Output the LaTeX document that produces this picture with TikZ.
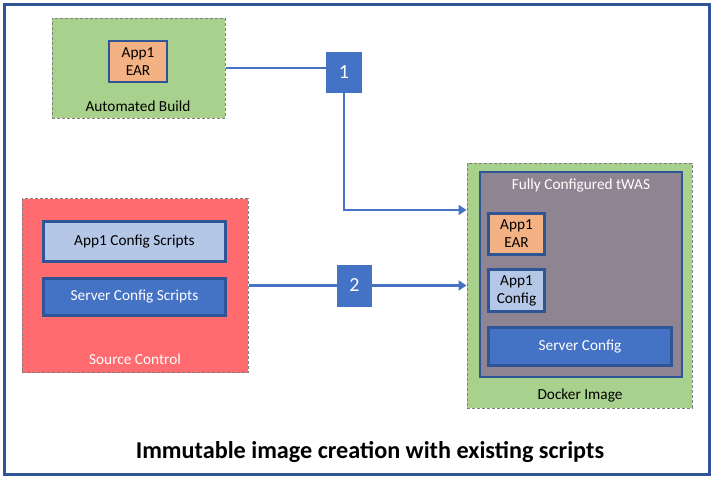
\documentclass[tikz,border=0pt]{standalone}
\usepackage{fontspec}
\setmainfont{Carlito}
\usetikzlibrary{arrows.meta}
\definecolor{frameblue}{HTML}{2F5597}
\definecolor{accblue}{HTML}{4472C4}
\definecolor{lightblue}{HTML}{B4C7E7}
\definecolor{leafgreen}{HTML}{A9D18E}
\definecolor{salmon}{HTML}{F4B183}
\definecolor{srcred}{HTML}{FF6B6E}
\definecolor{twasgray}{HTML}{8F8592}
\definecolor{dashgray}{HTML}{7F7F7F}

\begin{document}
\begin{tikzpicture}[x=1pt,y=-1pt,
    zone/.style={draw=dashgray,dash pattern=on 3pt off 2pt,line width=1pt,inner sep=0pt},
    part/.style={draw=frameblue,line width=2.5pt,inner sep=0pt,align=center,font=\fontsize{15.3}{18}\selectfont},
    caption/.style={font=\fontsize{15.3}{18}\selectfont},
    badge/.style={fill=accblue,text=white,inner sep=0pt,minimum width=36pt,minimum height=41pt,font=\fontsize{20}{22}\selectfont},
    flow/.style={accblue,line width=2.2pt},
    flowtip/.style={flow,-{Triangle[length=8pt,width=10pt]}}]
    \useasboundingbox (0,0) rectangle (714,479);
    \draw[frameblue,line width=2.5pt] (4.5,4.5) rectangle (709.5,474.5); %外枠

    % Automated Build
    \node[zone,fill=leafgreen,minimum width=173pt,minimum height=100pt] (build) at (138.5,68) {};
    \node[part,fill=salmon,minimum width=58pt,minimum height=41pt] (ear) at (138,61.5) {App1\\EAR};
    \node[caption] (buildlbl) at (138,106) {Automated Build};

    % Source Control
    \node[zone,fill=srcred,minimum width=226pt,minimum height=174pt] (src) at (135,285.5) {};
    \node[part,fill=lightblue,minimum width=182pt,minimum height=40pt] (appscripts) at (134.5,241.5) {App1 Config Scripts};
    \node[part,fill=accblue,text=white,minimum width=182pt,minimum height=37pt] (srvscripts) at (134.5,297) {Server Config Scripts};
    \node[caption,text=white] (srclbl) at (135,359) {Source Control};

    % Docker Image
    \node[zone,fill=leafgreen,minimum width=225pt,minimum height=245pt] (docker) at (579.5,285.5) {};
    \node[part,fill=twasgray,minimum width=202pt,minimum height=205pt] (twas) at (581,274.5) {};
    \node[caption,text=white] (twaslbl) at (581,186) {Fully Configured tWAS};
    \node[part,fill=salmon,minimum width=56pt,minimum height=41pt] (twasear) at (516.5,234) {App1\\EAR};
    \node[part,fill=lightblue,minimum width=56pt,minimum height=42pt] (appcfg) at (516.5,290.5) {App1\\Config};
    \node[part,fill=accblue,text=white,minimum width=183pt,minimum height=38pt] (srvcfg) at (580,346.5) {Server Config};
    \node[caption] (dockerlbl) at (580,395) {Docker Image};

    % 経路
    \node[badge] (one) at (344,72) {1};
    \node[badge,minimum width=35pt,minimum height=42pt] (two) at (354.5,285.5) {2};
    \draw[flow] (build.east) -- (build.east -| one.west);
    \draw[flowtip] (one.south) |- ([yshift=75.5pt]docker.west);
    \draw[flow] (src.east) -- (two.west);
    \draw[flowtip] (two.east) -- (docker.west);

    \node[font=\fontsize{24.2}{28}\selectfont\bfseries] (title) at (370,452) {Immutable image creation with existing scripts};
\end{tikzpicture}
\end{document}
